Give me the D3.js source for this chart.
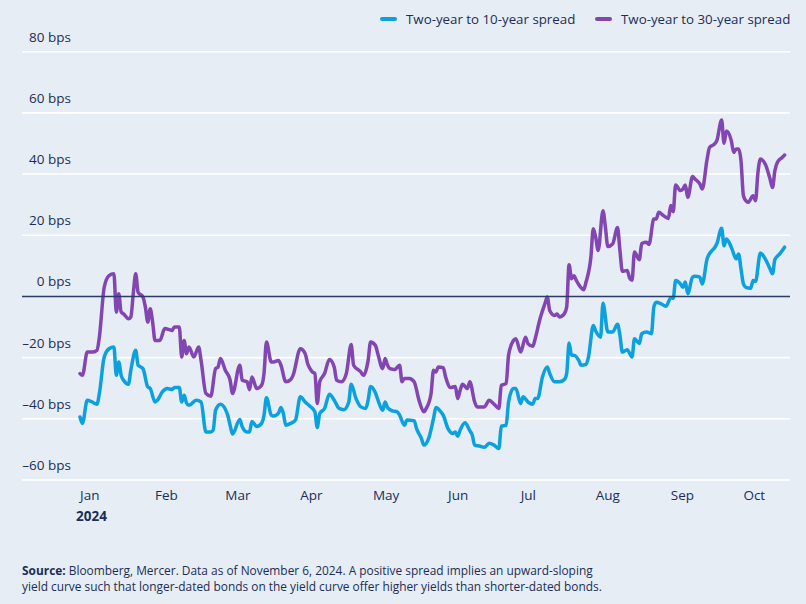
<!DOCTYPE html>
<html><head><meta charset="utf-8">
<script src="https://cdn.jsdelivr.net/npm/d3@7"></script>
<style>
html,body{margin:0;padding:0;background:#e6edf5;}
svg{display:block;font-family:"Open Sans",sans-serif;}
</style></head><body>
<svg id="chart" width="806" height="604"></svg>
<script>
// ---------- data ----------
const seriesNames = ["Two-year to 10-year spread", "Two-year to 30-year spread"];
const yTickValues = [-60, -40, -20, 0, 20, 40, 60, 80];
const yearLabel = "2024";

const dates10 = ["2024-01-01","2024-01-02","2024-01-04","2024-01-06","2024-01-08","2024-01-09","2024-01-11","2024-01-13","2024-01-15","2024-01-16","2024-01-17","2024-01-18","2024-01-19","2024-01-21","2024-01-22","2024-01-24","2024-01-25","2024-01-27","2024-01-29","2024-01-30",
"2024-02-01","2024-02-02","2024-02-04","2024-02-06","2024-02-08","2024-02-09","2024-02-11","2024-02-12","2024-02-13","2024-02-14","2024-02-15","2024-02-18","2024-02-20","2024-02-22","2024-02-24","2024-02-25","2024-02-26","2024-02-28",
"2024-03-02","2024-03-03","2024-03-04","2024-03-07","2024-03-08","2024-03-10","2024-03-11","2024-03-12","2024-03-14","2024-03-16","2024-03-17","2024-03-18","2024-03-20","2024-03-21","2024-03-23","2024-03-24","2024-03-25","2024-03-26","2024-03-28","2024-03-30",
"2024-04-01","2024-04-03","2024-04-05","2024-04-07","2024-04-08","2024-04-09","2024-04-11","2024-04-13","2024-04-15","2024-04-17","2024-04-19","2024-04-21","2024-04-22","2024-04-24","2024-04-26","2024-04-28","2024-04-29","2024-04-30",
"2024-05-02","2024-05-03","2024-05-05","2024-05-06","2024-05-07","2024-05-09","2024-05-11","2024-05-12","2024-05-14","2024-05-15","2024-05-18","2024-05-19","2024-05-21","2024-05-22","2024-05-24","2024-05-26","2024-05-27","2024-05-29","2024-05-30",
"2024-06-01","2024-06-03","2024-06-04","2024-06-05","2024-06-06","2024-06-08","2024-06-10","2024-06-11","2024-06-12","2024-06-14","2024-06-16","2024-06-18","2024-06-20","2024-06-22","2024-06-23","2024-06-25","2024-06-26","2024-06-28","2024-06-29",
"2024-07-01","2024-07-02","2024-07-04","2024-07-06","2024-07-07","2024-07-08","2024-07-10","2024-07-12","2024-07-13","2024-07-15","2024-07-17","2024-07-19","2024-07-20","2024-07-21","2024-07-22","2024-07-23","2024-07-25","2024-07-26","2024-07-28","2024-07-29","2024-07-31",
"2024-08-01","2024-08-03","2024-08-04","2024-08-06","2024-08-08","2024-08-10","2024-08-11","2024-08-12","2024-08-14","2024-08-16","2024-08-17","2024-08-19","2024-08-20","2024-08-22","2024-08-24","2024-08-25","2024-08-26","2024-08-28","2024-08-30",
"2024-09-01","2024-09-02","2024-09-03","2024-09-05","2024-09-06","2024-09-07","2024-09-08","2024-09-10","2024-09-11","2024-09-13","2024-09-14","2024-09-16","2024-09-18","2024-09-19","2024-09-20","2024-09-22","2024-09-23","2024-09-24","2024-09-26","2024-09-28","2024-09-29","2024-09-30",
"2024-10-01","2024-10-02","2024-10-04","2024-10-05","2024-10-06","2024-10-08","2024-10-10","2024-10-12","2024-10-13","2024-10-14","2024-10-16","2024-10-18"];
const values10 = [-39.4,-41.5,-33.9,-34.5,-35.2,-31.7,-19.8,-17.1,-16.5,-25.8,-21.4,-25.8,-27.4,-28.7,-24.1,-17.6,-22.5,-23.6,-29.6,-30.1,
-34.5,-33.9,-31.2,-30.1,-30.4,-29.8,-29.8,-34.5,-32.3,-34.8,-35.6,-33.9,-34.5,-44.3,-44.3,-43.7,-37.2,-35.2,
-38.8,-42.1,-45.0,-40.2,-42.6,-44.3,-44.3,-40.9,-42.5,-41.5,-38.8,-33.1,-38.8,-39.1,-38.1,-36.3,-38.3,-42.1,-41.5,-40.4,
-32.8,-34.5,-35.9,-37.7,-42.8,-38.3,-36.6,-32.0,-33.9,-36.6,-37.0,-34.5,-28.7,-33.4,-36.1,-36.6,-33.9,-29.4,
-31.5,-33.7,-37.2,-34.5,-36.3,-37.4,-37.7,-38.8,-42.1,-40.4,-40.6,-43.2,-46.4,-48.6,-46.4,-39.9,-36.3,-37.7,-38.8,
-43.2,-44.8,-44.3,-45.7,-43.7,-41.3,-43.9,-45.3,-48.6,-48.9,-49.3,-48.0,-48.6,-49.7,-42.4,-42.1,-34.5,-30.1,-30.1,
-35.0,-32.8,-34.5,-35.2,-33.4,-33.4,-26.3,-23.1,-25.2,-27.9,-27.9,-27.2,-25.2,-15.2,-19.2,-19.2,-20.9,-22.5,-22.2,-19.8,-9.5,
-11.3,-13.3,-2.2,-11.6,-11.6,-9.1,-12.7,-18.2,-17.4,-19.8,-13.8,-15.4,-12.2,-11.6,-12.2,-3.5,-1.9,-2.4,-3.2,
-0.5,-0.6,5.2,4.1,3.0,4.7,0.9,6.3,6.6,6.3,4.1,12.3,15.0,15.8,17.2,22.3,16.6,18.8,16.1,12.3,13.9,9.0,
4.1,3.0,2.7,5.2,4.9,14.2,12.3,9.0,7.4,12.1,13.9,16.1];

const dates30 = ["2024-01-01","2024-01-02","2024-01-04","2024-01-06","2024-01-08","2024-01-09","2024-01-11","2024-01-13","2024-01-15","2024-01-16","2024-01-17","2024-01-18","2024-01-19","2024-01-21","2024-01-22","2024-01-23","2024-01-24","2024-01-25","2024-01-27","2024-01-28","2024-01-29","2024-01-30","2024-01-31",
"2024-02-01","2024-02-03","2024-02-05","2024-02-08","2024-02-09","2024-02-11","2024-02-12","2024-02-13","2024-02-14","2024-02-15","2024-02-17","2024-02-19","2024-02-20","2024-02-22","2024-02-24","2024-02-26","2024-02-27","2024-02-28",
"2024-03-01","2024-03-03","2024-03-04","2024-03-07","2024-03-08","2024-03-10","2024-03-11","2024-03-12","2024-03-14","2024-03-16","2024-03-17","2024-03-18","2024-03-20","2024-03-21","2024-03-23","2024-03-24","2024-03-26","2024-03-28","2024-03-29",
"2024-04-01","2024-04-03","2024-04-04","2024-04-05","2024-04-06","2024-04-07","2024-04-08","2024-04-09","2024-04-11","2024-04-13","2024-04-15","2024-04-16","2024-04-18","2024-04-20","2024-04-22","2024-04-23","2024-04-26","2024-04-27","2024-04-29","2024-04-30",
"2024-05-02","2024-05-03","2024-05-05","2024-05-06","2024-05-07","2024-05-08","2024-05-10","2024-05-12","2024-05-13","2024-05-14","2024-05-16","2024-05-18","2024-05-20","2024-05-22","2024-05-23","2024-05-25","2024-05-26","2024-05-27","2024-05-28","2024-05-30","2024-05-31",
"2024-06-02","2024-06-04","2024-06-05","2024-06-06","2024-06-07","2024-06-09","2024-06-10","2024-06-12","2024-06-13","2024-06-16","2024-06-18","2024-06-20","2024-06-22","2024-06-23","2024-06-25","2024-06-26","2024-06-28","2024-06-29",
"2024-07-01","2024-07-03","2024-07-04","2024-07-06","2024-07-07","2024-07-09","2024-07-11","2024-07-12","2024-07-13","2024-07-15","2024-07-16","2024-07-17","2024-07-19","2024-07-20","2024-07-21","2024-07-22","2024-07-23","2024-07-24","2024-07-26","2024-07-27","2024-07-28","2024-07-30","2024-07-31",
"2024-08-01","2024-08-02","2024-08-04","2024-08-05","2024-08-06","2024-08-08","2024-08-10","2024-08-11","2024-08-12","2024-08-14","2024-08-15","2024-08-16","2024-08-17","2024-08-19","2024-08-20","2024-08-22","2024-08-23","2024-08-25","2024-08-26","2024-08-27","2024-08-29","2024-08-31",
"2024-09-01","2024-09-02","2024-09-03","2024-09-05","2024-09-06","2024-09-07","2024-09-08","2024-09-10","2024-09-11","2024-09-13","2024-09-14","2024-09-16","2024-09-17","2024-09-19","2024-09-20","2024-09-22","2024-09-23","2024-09-24","2024-09-26","2024-09-27","2024-09-28","2024-09-29","2024-09-30",
"2024-10-01","2024-10-02","2024-10-03","2024-10-05","2024-10-06","2024-10-07","2024-10-08","2024-10-10","2024-10-12","2024-10-13","2024-10-14","2024-10-15","2024-10-17","2024-10-18"];
const values30 = [-25.2,-25.8,-18.2,-18.2,-17.6,-13.3,3.0,6.8,7.4,-5.1,0.9,-5.1,-5.7,-7.3,-6.7,0.9,7.4,1.4,-0.2,-3.5,-8.4,-4.0,-8.4,
-14.4,-14.4,-10.5,-11.1,-10.0,-10.0,-19.8,-14.4,-18.7,-16.5,-19.8,-16.5,-20.9,-31.7,-32.6,-23.6,-23.1,-20.3,
-24.1,-27.4,-31.7,-22.5,-27.4,-27.9,-30.5,-26.3,-30.1,-29.0,-25.2,-14.9,-21.4,-21.4,-20.9,-22.5,-27.9,-27.2,-25.8,
-17.1,-18.7,-21.9,-23.6,-24.7,-25.2,-35.0,-27.9,-25.2,-20.6,-23.1,-27.4,-27.9,-25.2,-15.7,-22.5,-24.7,-25.8,-20.9,-14.9,
-16.0,-18.7,-23.6,-20.3,-22.5,-23.6,-23.9,-22.5,-27.9,-26.8,-26.8,-27.9,-33.9,-37.7,-36.6,-31.7,-24.1,-24.7,-23.1,-23.3,-26.3,
-29.8,-29.4,-33.4,-30.7,-28.7,-30.1,-27.9,-34.5,-36.1,-36.1,-33.9,-35.2,-36.6,-29.0,-28.5,-19.2,-14.4,-13.8,
-18.2,-13.3,-15.4,-16.3,-13.8,-7.3,-2.4,-0.2,-4.6,-6.2,-5.7,-6.7,-5.7,-3.5,10.4,5.8,6.8,5.2,2.8,2.2,4.7,12.8,22.1,
19.3,15.0,28.0,22.6,16.3,17.2,22.5,15.0,8.2,8.5,6.0,5.3,14.5,12.0,17.3,17.7,17.0,25.3,25.3,27.5,26.4,25.5,
29.7,27.7,36.4,34.6,35.1,36.4,32.4,39.2,38.4,36.8,35.1,44.9,48.7,49.8,50.9,57.7,50.1,54.1,50.9,47.1,48.2,48.2,44.4,
32.9,31.3,30.8,32.9,31.3,40.5,44.9,43.3,38.4,35.6,41.1,43.8,45.4,46.2];

const sourceLines = [
  ["Source:", " Bloomberg, Mercer. Data as of November 6, 2024. A positive spread implies an upward-sloping"],
  ["", "yield curve such that longer-dated bonds on the yield curve offer higher yields than shorter-dated bonds."]
];

// ---------- setup ----------
const colors = ["#0aa1de", "#8345b1"];
const textColor = "#1c2d55";
const svg = d3.select("#chart");
const parse = d3.timeParse("%Y-%m-%d");

const x = d3.scaleTime()
  .domain([parse("2024-01-01"), parse("2024-10-19")])
  .range([80, 787]);
const y = d3.scaleLinear().domain([-60, 80]).range([480, 51.7]);
const gridX0 = 22, gridX1 = 790;

// gridlines
svg.append("g").selectAll("line").data(yTickValues.filter(v => v !== 0)).join("line")
  .attr("x1", gridX0).attr("x2", gridX1)
  .attr("y1", d => y(d)).attr("y2", d => y(d))
  .attr("stroke", "#ffffff").attr("stroke-width", 1.6);

// y labels
svg.append("g").selectAll("text").data(yTickValues).join("text")
  .attr("x", 71).attr("y", d => y(d) - 10)
  .attr("text-anchor", "end")
  .attr("font-size", 13.5).attr("fill", textColor)
  .text(d => (d < 0 ? "\u2013" + Math.abs(d) : d) + " bps");

// x axis labels (month starts)
const months = d3.timeMonth.range(parse("2024-01-01"), parse("2024-11-01"));
svg.append("g").selectAll("text").data(months).join("text")
  .attr("x", d => x(d)).attr("y", 500)
  .attr("font-size", 13.5).attr("fill", textColor)
  .text(d3.timeFormat("%b"));
svg.append("text").attr("x", x(months[0]) - 4).attr("y", 521)
  .attr("font-size", 13.5).attr("font-weight", 700).attr("fill", textColor)
  .text(yearLabel);

// series
const line = d3.line().x(d => x(d.date)).y(d => y(d.value)).curve(d3.curveMonotoneX);
const s10 = dates10.map((d, i) => ({date: parse(d), value: values10[i]}));
const s30 = dates30.map((d, i) => ({date: parse(d), value: values30[i]}));
[s10, s30].forEach((s, i) => {
  svg.append("path").datum(s)
    .attr("fill", "none").attr("stroke", colors[i])
    .attr("stroke-width", 3.5).attr("stroke-linejoin", "round").attr("stroke-linecap", "round")
    .attr("d", line);
});

// zero line
svg.append("line").attr("x1", gridX0).attr("x2", gridX1)
  .attr("y1", y(0)).attr("y2", y(0))
  .attr("stroke", "#2b3c68").attr("stroke-width", 1.5);

// legend
const legendX = [381, 596];
seriesNames.forEach((name, i) => {
  const g = svg.append("g").attr("transform", `translate(${legendX[i]},19)`);
  g.append("line").attr("x1", 1).attr("x2", 14).attr("y1", 0).attr("y2", 0)
    .attr("stroke", colors[i]).attr("stroke-width", 4).attr("stroke-linecap", "round");
  g.append("text").attr("x", 25).attr("y", 4.5)
    .attr("font-size", 13.3).attr("fill", textColor).text(name);
});

// footnote
sourceLines.forEach((ln, i) => {
  const t = svg.append("text").attr("x", 22).attr("y", 575 + i * 16)
    .attr("font-size", 11.9).attr("fill", textColor);
  if (ln[0]) t.append("tspan").attr("font-weight", 700).text(ln[0]);
  t.append("tspan").text(ln[1]);
});
</script>
</body></html>
